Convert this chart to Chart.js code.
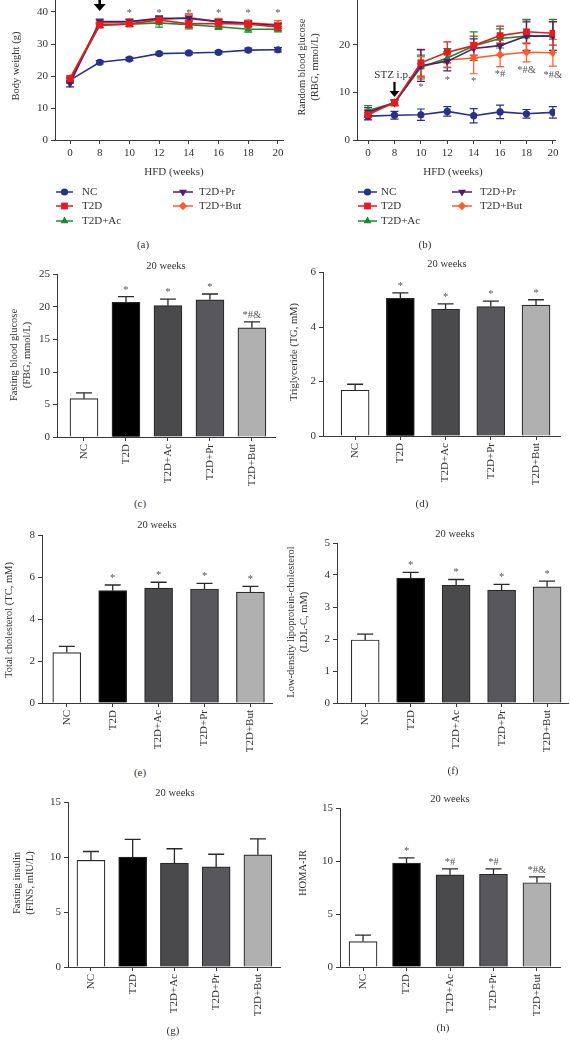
<!DOCTYPE html>
<html>
<head>
<meta charset="utf-8">
<script src="https://cdn.jsdelivr.net/npm/chart.js@4"></script>
<style>
  body { margin: 0; background: #fff; }
  #fig { position: relative; width: 570px; height: 1040px; overflow: hidden; font-family: "Liberation Serif", "Times New Roman", serif; color: #333; }
  canvas { position: absolute; }
  .t { position: absolute; white-space: nowrap; font-size: 10.5px; line-height: 13px; text-align: center; transform: translate(-50%, -50%); }
  .p { font-size: 11px; }
  .v { transform: translate(-50%, -50%) rotate(-90deg); }
</style>
</head>
<body>
<div id="fig">
  <canvas id="cA"></canvas><canvas id="cB"></canvas>
  <canvas id="cC"></canvas><canvas id="cD"></canvas>
  <canvas id="cE"></canvas><canvas id="cF"></canvas>
  <canvas id="cG"></canvas><canvas id="cH"></canvas>

  <div class="t v" style="left:15px;top:66px">Body weight (g)</div>
  <div class="t p" style="left:174px;top:171px">HFD (weeks)</div>
  <div class="t p" style="left:143px;top:244px">(a)</div>

  <div class="t v" style="left:308px;top:67px">Random blood glucose<br>(RBG, mmol/L)</div>
  <div class="t p" style="left:453px;top:171px">HFD (weeks)</div>
  <div class="t p" style="left:425px;top:244px">(b)</div>

  <div class="t" style="left:166px;top:265px">20 weeks</div>
  <div class="t v" style="left:20px;top:355px">Fasting blood glucose<br>(FBG, mmol/L)</div>
  <div class="t p" style="left:140px;top:503px">(c)</div>

  <div class="t" style="left:447px;top:263px">20 weeks</div>
  <div class="t v" style="left:293px;top:352px">Triglyceride (TG, mM)</div>
  <div class="t p" style="left:422px;top:503px">(d)</div>

  <div class="t" style="left:157px;top:524px">20 weeks</div>
  <div class="t v" style="left:8px;top:620px">Total cholesterol (TC, mM)</div>
  <div class="t p" style="left:140px;top:772px">(e)</div>

  <div class="t" style="left:455px;top:533px">20 weeks</div>
  <div class="t v" style="left:297px;top:622px">Low-density lipoprotein-cholesterol<br>(LDL-C, mM)</div>
  <div class="t p" style="left:453px;top:770px">(f)</div>

  <div class="t" style="left:175px;top:792px">20 weeks</div>
  <div class="t v" style="left:23px;top:883px">Fasting insulin<br>(FINS, mIU/L)</div>
  <div class="t p" style="left:173px;top:1030px">(g)</div>

  <div class="t" style="left:450px;top:798px">20 weeks</div>
  <div class="t v" style="left:302px;top:873px">HOMA-IR</div>
  <div class="t p" style="left:443px;top:1027px">(h)</div>
</div>

<script>
// ---- data ----
const weeks = ['0', '8', '10', '12', '14', '16', '18', '20'];
const groups = ['NC', 'T2D', 'T2D+Ac', 'T2D+Pr', 'T2D+But'];

// (a) body weight, g
const bwNC    = [18.7, 24.3, 25.3, 27.0, 27.2, 27.4, 28.1, 28.2];
const bwNCsd  = [0.8, 0.5, 0.5, 0.5, 0.5, 0.5, 0.6, 0.7];
const bwT2D   = [19.2, 36.0, 36.3, 37.5, 36.3, 36.4, 36.2, 35.3];
const bwT2Dsd = [0.8, 0.8, 0.8, 1.0, 1.2, 1.0, 0.9, 1.0];
const bwAc    = [18.6, 35.8, 36.2, 36.6, 36.0, 35.4, 34.6, 34.6];
const bwAcsd  = [0.8, 0.8, 0.8, 1.3, 1.3, 0.8, 0.9, 0.8];
const bwPr    = [17.6, 37.0, 37.0, 38.0, 38.0, 37.0, 36.5, 35.8];
const bwPrsd  = [1.0, 0.8, 0.8, 0.8, 1.0, 0.8, 0.8, 0.8];
const bwBut   = [19.3, 36.5, 37.0, 37.6, 38.3, 37.0, 36.6, 36.1];
const bwButsd = [0.8, 0.8, 0.8, 0.8, 1.2, 1.0, 0.9, 1.2];
const bwMarks = ['', '', '*', '*', '*', '*', '*', '*'];

// (b) random blood glucose, mmol/L
const rbgNC    = [5.0, 5.2, 5.3, 6.0, 5.1, 5.9, 5.5, 5.8];
const rbgNCsd  = [0.8, 0.8, 1.2, 1.0, 1.5, 1.4, 0.9, 1.2];
const rbgT2D   = [5.3, 7.9, 16.2, 18.4, 19.8, 21.9, 22.7, 22.4];
const rbgT2Dsd = [1.0, 0.6, 2.8, 2.2, 2.0, 2.0, 2.5, 2.5];
const rbgAc    = [6.2, 7.8, 15.3, 17.2, 19.7, 21.3, 21.8, 21.8];
const rbgAcsd  = [1.0, 0.6, 2.5, 2.0, 3.0, 2.0, 3.5, 3.5];
const rbgPr    = [5.8, 7.8, 15.6, 16.5, 19.2, 19.8, 21.8, 21.8];
const rbgPrsd  = [1.0, 0.6, 3.3, 2.0, 2.0, 2.0, 3.0, 3.0];
const rbgBut   = [5.6, 7.8, 15.3, 16.8, 17.2, 17.9, 18.4, 18.3];
const rbgButsd = [0.8, 0.6, 2.2, 1.5, 3.3, 2.5, 2.0, 2.8];
const rbgMarks = ['', '', '*', '*', '*', '*#', '*#&', '*#&'];
const rbgMarkAt = [0, 0, 11.0, 12.6, 12.4, 13.8, 14.7, 13.5];

// (c)-(h) 20 weeks
const fbg = [5.9, 20.7, 20.2, 21.1, 16.8];
const fbgSd = [0.9, 0.9, 1.0, 0.9, 0.9];
const fbgMarks = ['', '*', '*', '*', '*#&'];
const tg = [1.68, 5.05, 4.65, 4.75, 4.8];
const tgSd = [0.22, 0.2, 0.2, 0.2, 0.2];
const tgMarks = ['', '*', '*', '*', '*'];
const tc = [2.4, 5.35, 5.47, 5.43, 5.28];
const tcSd = [0.3, 0.27, 0.28, 0.27, 0.27];
const tcMarks = ['', '*', '*', '*', '*'];
const ldl = [1.97, 3.9, 3.68, 3.53, 3.63];
const ldlSd = [0.18, 0.18, 0.18, 0.18, 0.18];
const ldlMarks = ['', '*', '*', '*', '*'];
const fins = [9.7, 10.0, 9.45, 9.1, 10.2];
const finsSd = [0.8, 1.6, 1.3, 1.15, 1.45];
const finsMarks = ['', '', '', '', ''];
const homa = [2.4, 9.8, 8.7, 8.75, 7.95];
const homaSd = [0.6, 0.5, 0.55, 0.5, 0.55];
const homaMarks = ['', '*', '*#', '*#', '*#&'];

// ---- styles ----
const INK = '#3a3a3a';
const FONT = '"Liberation Serif", "Times New Roman", serif';
const lineColors = ['#28308a', '#e8191f', '#1c8a2e', '#4f1d6e', '#ff5b2a'];
const pointStyles = ['circle', 'rect', 'triangle', 'triangle', 'rectRot'];
const pointRot = [0, 0, 0, 180, 0];
const pointRad = [3.6, 4.8, 4.6, 4.6, 4.2];
const drawOrder = [5, 1, 3, 2, 4];
const barFill = ['#ffffff', '#000000', '#4a4a4c', '#58585c', '#b0b0b0'];

Chart.defaults.font.family = FONT;
Chart.defaults.font.size = 11;
Chart.defaults.color = '#333';
Chart.defaults.animation = false;

function drawMarker(ctx, style, rot, x, y, r) {
  ctx.beginPath();
  if (style === 'circle') {
    ctx.arc(x, y, r, 0, Math.PI * 2);
  } else if (style === 'rect') {
    const s = r * Math.SQRT1_2;
    ctx.rect(x - s, y - s, 2 * s, 2 * s);
  } else if (style === 'rectRot') {
    ctx.moveTo(x, y - r); ctx.lineTo(x + r, y); ctx.lineTo(x, y + r); ctx.lineTo(x - r, y);
  } else {
    const d = rot === 180 ? -1 : 1;
    ctx.moveTo(x, y - d * r);
    ctx.lineTo(x - r * 0.87, y + d * r * 0.5);
    ctx.lineTo(x + r * 0.87, y + d * r * 0.5);
  }
  ctx.closePath();
  ctx.fill();
}

function drawErr(chart, o) {
  const ctx = chart.ctx, ys = chart.scales.y;
  chart.data.datasets.forEach((ds, i) => {
    if (!ds.sd) return;
    const meta = chart.getDatasetMeta(i);
    ctx.save();
    ctx.strokeStyle = o.errColor || ds.borderColor;
    ctx.lineWidth = o.errWidth;
    meta.data.forEach((el, j) => {
      const v = ds.data[j].y, s = ds.sd[j];
      const yT = ys.getPixelForValue(v + s);
      const yB = o.both ? ys.getPixelForValue(v - s) : ys.getPixelForValue(v);
      ctx.beginPath();
      ctx.moveTo(el.x, yB); ctx.lineTo(el.x, yT);
      ctx.moveTo(el.x - o.cap, yT); ctx.lineTo(el.x + o.cap, yT);
      if (o.both) { ctx.moveTo(el.x - o.cap, yB); ctx.lineTo(el.x + o.cap, yB); }
      ctx.stroke();
    });
    ctx.restore();
  });
}

function drawMarks(chart, o) {
  if (!o.marks) return;
  const ctx = chart.ctx, xs = chart.scales.x, ys = chart.scales.y;
  ctx.save();
  ctx.fillStyle = '#555';
  ctx.font = '10.5px ' + FONT;
  ctx.textAlign = 'center';
  o.marks.forEach((m, j) => {
    if (!m) return;
    const x = xs.getPixelForValue(j);
    if (o.markAt) {
      ctx.textBaseline = 'middle';
      const v = Array.isArray(o.markAt) ? o.markAt[j] : o.markAt;
      ctx.fillText(m, x, ys.getPixelForValue(v));
    } else {
      const ds = chart.data.datasets[0];
      ctx.textBaseline = 'alphabetic';
      ctx.fillText(m, x, ys.getPixelForValue(ds.data[j].y + ds.sd[j]) - 4);
    }
  });
  ctx.restore();
}

function drawArrow(chart, o) {
  if (!o.arrow) return;
  const a = o.arrow, ctx = chart.ctx;
  const x = chart.scales.x.getPixelForValue(a.at);
  const y1 = chart.scales.y.getPixelForValue(a.from);
  const y2 = chart.scales.y.getPixelForValue(a.to);
  ctx.save();
  ctx.strokeStyle = '#000'; ctx.fillStyle = '#000'; ctx.lineWidth = a.w;
  ctx.beginPath(); ctx.moveTo(x, y1); ctx.lineTo(x, y2 - a.head); ctx.stroke();
  ctx.beginPath();
  ctx.moveTo(x - a.half, y2 - a.head); ctx.lineTo(x + a.half, y2 - a.head); ctx.lineTo(x, y2);
  ctx.closePath(); ctx.fill();
  if (a.label) {
    ctx.font = '11px ' + FONT;
    ctx.fillStyle = '#333'; ctx.textAlign = 'center'; ctx.textBaseline = 'middle';
    ctx.fillText(a.label, x + a.labelDx, chart.scales.y.getPixelForValue(a.labelAt));
  }
  ctx.restore();
}

function drawLegend(chart, o) {
  if (!o.legend) return;
  const L = o.legend, ctx = chart.ctx;
  ctx.save();
  ctx.font = '11px ' + FONT;
  ctx.textBaseline = 'middle';
  L.cols.forEach((col, c) => {
    L.items[c].forEach((di, r) => {
      const ds = chart.data.datasets[di];
      const y = L.rows[r] - L.top;
      const l = col.l - L.left, rr = col.r - L.left;
      ctx.strokeStyle = ds.borderColor; ctx.fillStyle = ds.borderColor; ctx.lineWidth = 1.5;
      ctx.beginPath(); ctx.moveTo(l, y); ctx.lineTo(rr, y); ctx.stroke();
      drawMarker(ctx, ds.pointStyle, ds.pointRotation, (l + rr) / 2, y, ds.pointRadius);
      ctx.fillStyle = '#333';
      ctx.fillText(ds.label, col.t - L.left, y);
    });
  });
  ctx.restore();
}

Chart.register({
  id: 'extras',
  beforeDatasetsDraw(chart, args, o) { if (o.both) drawErr(chart, o); },
  afterDatasetsDraw(chart, args, o) {
    if (!o.both) drawErr(chart, o);
    drawMarks(chart, o);
    drawArrow(chart, o);
    drawLegend(chart, o);
  }
});

function yAxis(max, step, width) {
  return {
    type: 'linear', min: 0, max: max,
    ticks: { stepSize: step, padding: 3, color: '#333' },
    grid: { display: true, drawOnChartArea: false, drawTicks: true, tickLength: 4, color: INK, lineWidth: 1 },
    border: { display: true, color: INK, width: 1 },
    afterFit(s) { s.width = width; }
  };
}

function xAxis(min, max, labels, height, rotate) {
  return {
    type: 'linear', min: min, max: max, offset: false,
    ticks: {
      stepSize: 1, includeBounds: false, autoSkip: false, padding: 3, color: '#333',
      maxRotation: rotate ? 90 : 0, minRotation: rotate ? 90 : 0,
      callback: v => Number.isInteger(v) ? labels[v] : ''
    },
    grid: { display: true, offset: false, drawOnChartArea: false, drawTicks: true, tickLength: 4, color: INK, lineWidth: 1 },
    border: { display: true, color: INK, width: 1 },
    afterFit(s) { s.height = height; }
  };
}

// box: canvas rect on the page; plot: axis rect on the page
function setup(id, box, plot, xh) {
  const c = document.getElementById(id);
  c.width = box.w; c.height = box.h;
  c.style.left = box.left + 'px'; c.style.top = box.top + 'px';
  c.style.width = box.w + 'px'; c.style.height = box.h + 'px';
  return {
    ctx: c,
    yw: plot.x0 - box.left,
    padding: {
      left: 0,
      top: plot.yTop - box.top,
      right: box.left + box.w - plot.x1,
      bottom: box.top + box.h - plot.yBot - xh
    }
  };
}

function lineSet(label, i, vals, sd) {
  return {
    label: label,
    data: weeks.map((w, k) => ({ x: k, y: vals[k] })),
    sd: sd,
    borderColor: lineColors[i], backgroundColor: lineColors[i],
    borderWidth: 1.6,
    pointStyle: pointStyles[i], pointRotation: pointRot[i], pointRadius: pointRad[i],
    pointBorderWidth: 0,
    order: drawOrder[i]
  };
}

function lineChart(id, box, plot, xr, yMax, yStep, sets, extra) {
  const s = setup(id, box, plot, 22);
  return new Chart(s.ctx, {
    type: 'line',
    data: { datasets: sets },
    options: {
      responsive: false, devicePixelRatio: 1,
      layout: { padding: s.padding },
      scales: { x: xAxis(xr[0], xr[1], weeks, 22, false), y: yAxis(yMax, yStep, s.yw) },
      plugins: { legend: { display: false }, tooltip: { enabled: false }, extras: extra }
    }
  });
}

function barChart(id, box, plot, xr, yMax, yStep, vals, sd, marks) {
  const s = setup(id, box, plot, 54);
  return new Chart(s.ctx, {
    type: 'bar',
    data: {
      datasets: [{
        data: groups.map((g, k) => ({ x: k, y: vals[k] })),
        sd: sd,
        backgroundColor: barFill, borderColor: '#2a2a2a', borderWidth: 1.2,
        barThickness: 28
      }]
    },
    options: {
      responsive: false, devicePixelRatio: 1,
      layout: { padding: s.padding },
      scales: { x: xAxis(xr[0], xr[1], groups, 54, true), y: yAxis(yMax, yStep, s.yw) },
      plugins: {
        legend: { display: false }, tooltip: { enabled: false },
        extras: { both: false, cap: 8, errWidth: 1.3, errColor: '#2a2a2a', marks: marks }
      }
    }
  });
}

// (a)
const boxA = { left: 0, top: -30, w: 290, h: 265 };
lineChart('cA', boxA, { x0: 55, x1: 283, yTop: -20, yBot: 140 }, [-0.505, 7.17], 50, 10, [
  lineSet('NC', 0, bwNC, bwNCsd),
  lineSet('T2D', 1, bwT2D, bwT2Dsd),
  lineSet('T2D+Ac', 2, bwAc, bwAcsd),
  lineSet('T2D+Pr', 3, bwPr, bwPrsd),
  lineSet('T2D+But', 4, bwBut, bwButsd)
], {
  both: true, cap: 4, errWidth: 1.2,
  marks: bwMarks, markAt: 39.5,
  arrow: { at: 1, from: 46, to: 40.3, w: 2.6, head: 7, half: 6 },
  legend: {
    left: boxA.left, top: boxA.top, rows: [192, 206, 221],
    cols: [{ l: 56, r: 73, t: 82 }, { l: 173, r: 193, t: 199 }],
    items: [[0, 1, 2], [3, 4]]
  }
});

// (b)
const boxB = { left: 280, top: -30, w: 290, h: 265 };
lineChart('cB', boxB, { x0: 357, x1: 555, yTop: -3, yBot: 140 }, [-0.42, 7.08], 30, 10, [
  lineSet('NC', 0, rbgNC, rbgNCsd),
  lineSet('T2D', 1, rbgT2D, rbgT2Dsd),
  lineSet('T2D+Ac', 2, rbgAc, rbgAcsd),
  lineSet('T2D+Pr', 3, rbgPr, rbgPrsd),
  lineSet('T2D+But', 4, rbgBut, rbgButsd)
], {
  both: true, cap: 4, errWidth: 1.2,
  marks: rbgMarks, markAt: rbgMarkAt,
  arrow: { at: 1, from: 12.2, to: 9.0, w: 2.2, head: 6, half: 5, label: 'STZ i.p.', labelAt: 13.6, labelDx: -2 },
  legend: {
    left: boxB.left, top: boxB.top, rows: [192, 206, 221],
    cols: [{ l: 358, r: 377, t: 381 }, { l: 452, r: 472, t: 480 }],
    items: [[0, 1, 2], [3, 4]]
  }
});

// (c)-(h)
barChart('cC', { left: 0, top: 255, w: 290, h: 240 }, { x0: 57, x1: 275, yTop: 274.5, yBot: 437 }, [-0.643, 4.55], 25, 5, fbg, fbgSd, fbgMarks);
barChart('cD', { left: 280, top: 255, w: 290, h: 240 }, { x0: 323, x1: 560, yTop: 272.5, yBot: 436 }, [-0.71, 4.53], 6, 2, tg, tgSd, tgMarks);
barChart('cE', { left: 0, top: 515, w: 290, h: 250 }, { x0: 42, x1: 272, yTop: 535, yBot: 703 }, [-0.54, 4.47], 8, 2, tc, tcSd, tcMarks);
barChart('cF', { left: 280, top: 515, w: 290, h: 250 }, { x0: 337, x1: 568, yTop: 543, yBot: 703 }, [-0.62, 4.46], 5, 1, ldl, ldlSd, ldlMarks);
barChart('cG', { left: 0, top: 780, w: 290, h: 240 }, { x0: 68, x1: 280, yTop: 802, yBot: 967 }, [-0.55, 4.53], 15, 5, fins, finsSd, finsMarks);
barChart('cH', { left: 280, top: 780, w: 290, h: 240 }, { x0: 340, x1: 560, yTop: 808, yBot: 967 }, [-0.53, 4.53], 15, 5, homa, homaSd, homaMarks);
</script>
</body>
</html>
